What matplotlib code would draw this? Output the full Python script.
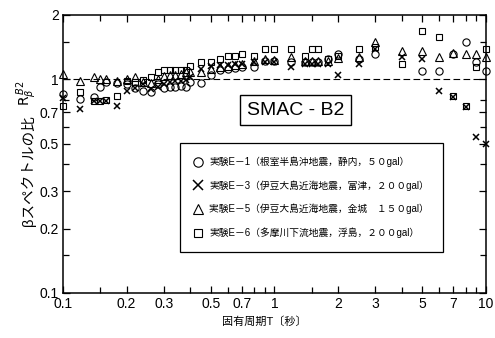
import numpy as np
import matplotlib.pyplot as plt
from matplotlib.ticker import FixedLocator, FixedFormatter, NullFormatter

plt.rcParams['font.family'] = ['Liberation Sans Narrow', 'Liberation Sans', 'Noto Sans CJK JP', 'DejaVu Sans']
plt.rcParams['mathtext.fontset'] = 'dejavusans'

# natural periods T [s]
periods = [0.10, 0.12, 0.14, 0.15, 0.16, 0.18, 0.20, 0.22, 0.24, 0.26,
           0.28, 0.30, 0.32, 0.34, 0.36, 0.38, 0.40, 0.45, 0.50, 0.55,
           0.60, 0.65, 0.70, 0.80, 0.90, 1.0, 1.2, 1.4, 1.5, 1.6,
           1.8, 2.0, 2.5, 3.0, 4.0, 5.0, 6.0, 7.0, 8.0, 9.0, 10.0]

# spectral ratio R_beta^B2 for each test
ratio_e1 = [0.85, 0.81, 0.83, 0.92, 0.97, 0.96, 0.95, 0.91, 0.88, 0.87,
            0.95, 0.91, 0.92, 0.92, 0.93, 0.92, 0.97, 0.96, 1.05, 1.11,
            1.12, 1.13, 1.14, 1.14, 1.22, 1.22, 1.20, 1.20, 1.20, 1.20,
            1.24, 1.31, 1.24, 1.31, np.nan, 1.09, 1.09, 1.31, 1.49, 1.20, 1.09]
ratio_e3 = [0.82, 0.73, 0.79, 0.79, 0.79, 0.75, 0.88, 0.91, 0.95, 0.90,
            0.92, 0.95, 0.97, 0.98, 0.98, 0.99, 1.02, 1.12, 1.15, 1.17,
            1.17, 1.18, 1.18, 1.20, 1.20, 1.20, 1.14, 1.18, 1.18, 1.18,
            1.18, 1.05, 1.18, 1.38, 1.27, 1.24, 0.88, 0.83, 0.74, 0.54, 0.50]
ratio_e5 = [1.06, 0.98, 1.02, 1.00, 1.00, 0.98, 1.00, 1.03, 0.97, 0.96,
            1.00, 1.04, 1.05, 1.05, 1.06, 1.08, 1.08, 1.08, 1.12, 1.14,
            1.16, 1.17, 1.18, 1.22, 1.24, 1.23, 1.27, 1.22, 1.22, 1.22,
            1.22, 1.26, 1.27, 1.49, 1.35, 1.35, 1.27, 1.33, 1.31, 1.31, 1.27]
ratio_e6 = [0.75, 0.87, 0.79, 0.79, 0.80, 0.84, 0.98, 0.97, 0.99, 1.02,
            1.08, 1.10, 1.10, 1.10, 1.10, 1.10, 1.15, 1.20, 1.21, 1.24,
            1.28, 1.28, 1.31, 1.28, 1.38, 1.38, 1.38, 1.28, 1.38, 1.38,
            1.24, 1.28, 1.38, 1.41, 1.18, 1.68, 1.57, 0.84, 0.75, 1.14, 1.38]

labels = ['実験E－1（根室半島沖地震，静内，５０gal）',
          '実験E－3（伊豆大島近海地震，富津，２００gal）',
          '実験E－5（伊豆大島近海地震，金城　１５０gal）',
          '実験E－6（多摩川下流地震，浮島，２００gal）']

xticks = [0.1, 0.2, 0.3, 0.5, 0.7, 1, 2, 3, 5, 7, 10]
xticklabels = ['0.1', '0.2', '0.3', '0.5', '0.7', '1', '2', '3', '5', '7', '10']
xminor = [0.15, 0.4, 0.6, 0.8, 0.9, 1.5, 4, 6, 8, 9]
yticks = [0.1, 0.2, 0.3, 0.5, 0.7, 1, 2]
yticklabels = ['0.1', '0.2', '0.3', '0.5', '0.7', '1', '2']
yminor = [0.15, 0.4, 0.6, 0.8, 1.5]

fig = plt.figure(figsize=(4.95, 3.38), dpi=100)
ax = fig.add_axes([63/495, 45/338, 423/495, 278/338])
ax.set_xscale('log')
ax.set_yscale('log')

ax.axhline(1.0, color='black', lw=0.8, ls=(0, (6, 3)), zorder=1)

styles = [('o', 5.2, 0.8), ('x', 5.0, 1.1), ('^', 5.2, 0.8), ('s', 4.8, 0.8)]
for vals, (mk, ms, mew), lab in zip([ratio_e1, ratio_e3, ratio_e5, ratio_e6], styles, labels):
    ax.plot(periods, vals, ls='none', marker=mk, ms=ms, mew=mew,
            mfc='none', mec='black', label=lab, clip_on=False, zorder=3)

ax.set_xlim(0.1, 10)
ax.set_ylim(0.1, 2)

ax.xaxis.set_major_locator(FixedLocator(xticks))
ax.xaxis.set_major_formatter(FixedFormatter(xticklabels))
ax.xaxis.set_minor_locator(FixedLocator(xminor))
ax.xaxis.set_minor_formatter(NullFormatter())
ax.yaxis.set_major_locator(FixedLocator(yticks))
ax.yaxis.set_major_formatter(FixedFormatter(yticklabels))
ax.yaxis.set_minor_locator(FixedLocator(yminor))
ax.yaxis.set_minor_formatter(NullFormatter())
ax.tick_params(which='both', direction='in', top=True, right=True,
               width=0.9, labelsize=10, colors='black')
ax.tick_params(which='major', length=5, pad=3)
ax.tick_params(which='minor', length=4)
for sp in ax.spines.values():
    sp.set_linewidth(1.1)

leg = ax.legend(loc='upper left', bbox_to_anchor=(0.277, 0.54), fontsize=7,
                frameon=True, fancybox=False, edgecolor='black', framealpha=1,
                handlelength=0.8, handletextpad=0.8, labelspacing=1.35,
                borderpad=1.4, borderaxespad=0, markerscale=1.3)
leg.get_frame().set_linewidth(0.9)

ax.text(0.55, 0.658, 'SMAC - B2', transform=ax.transAxes, ha='center', va='center',
        fontsize=14, bbox=dict(boxstyle='square,pad=0.35', fc='white', ec='black', lw=1.0))

# y label: Japanese part and the symbol drawn separately so the CJK fallback works
fig.text(28/495, 1 - 226/338, 'βスペクトルの比', rotation=90,
         ha='center', va='bottom', fontsize=10.5)
fig.text(27/495, 1 - 106/338, r'$\mathrm{R}_\beta^{\,B2}$', rotation=90,
         ha='center', va='bottom', fontsize=10)
fig.text(264/495, 1 - 322/338, '固有周期T〔秒〕', ha='center', va='center', fontsize=8)

fig.savefig('out.png', dpi=100)
